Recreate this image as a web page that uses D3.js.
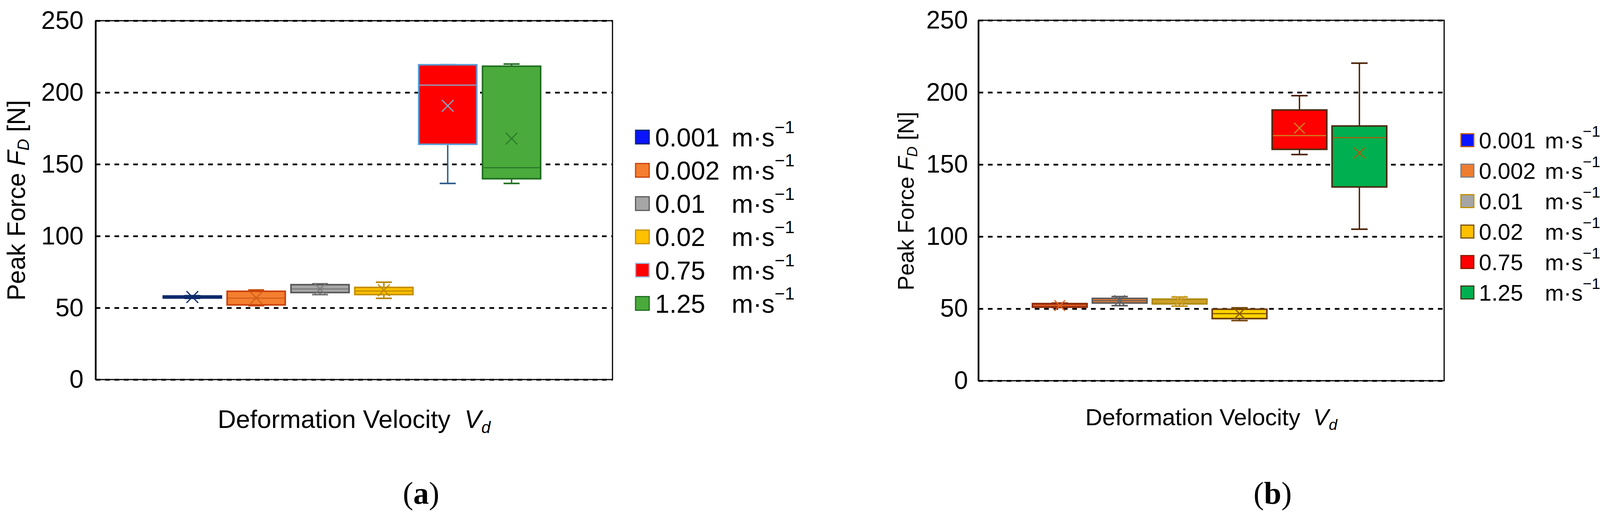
<!DOCTYPE html>
<html>
<head>
<meta charset="utf-8">
<script src="https://cdn.jsdelivr.net/npm/d3@7.9.0/dist/d3.min.js"></script>
<style>
  html, body { margin: 0; padding: 0; background: #fff; overflow: hidden; }
  svg { display: block; }
  text { font-family: 'Liberation Sans', Arial, sans-serif; fill: #000; }
</style>
</head>
<body>
<script>
// values
const velocities = ['0.001', '0.002', '0.01', '0.02', '0.75', '1.25'];
const yTicks = [0, 50, 100, 150, 200, 250];

// panel (a) box stats
const minA  = [56.6, 51.5, 59.2, 56.6, 136.6, 136.6];
const q1A   = [56.8, 52.0, 60.6, 59.2, 163.9, 139.9];
const medA  = [57.5, 56.7, 63.1, 61.7, 205.1, 147.6];
const q3A   = [58.2, 61.5, 66.1, 64.2, 219.3, 218.3];
const maxA  = [58.4, 62.4, 66.7, 67.8, 219.3, 219.8];
const meanA = [57.5, 56.9, 63.1, 62.2, 190.7, 167.9];

// panel (b) box stats
const minB  = [50.8, 52.1, 51.7, 41.7, 156.9, 105.1];
const q1B   = [51.0, 53.9, 53.3, 43.1, 160.5, 134.4];
const medB  = [52.2, 55.5, 54.9, 46.5, 170.0, 168.6];
const q3B   = [53.5, 57.1, 56.6, 49.6, 187.8, 176.7];
const maxB  = [53.8, 58.4, 58.0, 50.6, 197.7, 220.3];
const meanB = [52.1, 55.6, 55.2, 46.5, 175.2, 158.0];

const W = 4168;
const H = 1324;

const svg = d3.select('body').append('svg')
  .attr('width', W)
  .attr('height', H)
  .attr('viewBox', `0 0 ${W} ${H}`);

svg.append('rect').attr('width', W).attr('height', H).attr('fill', '#fff');

const panels = [
  {
    min: minA, q1: q1A, med: medA, q3: q3A, max: maxA, mean: meanA,
    left: 245, right: 1568, top: 53, bottom: 972,
    band: [418, 1384], pad: 0.09, capW: 41, xSize: 15, boxW: 4,
    tickFont: 65, tickPad: 31,
    yTitle: { x: 64, y: 513, font: 64 },
    xTitle: { y: 1096, font: 65 },
    caption: { x: 1078, y: 1290, text: 'a' },
    legend: { sqX: 1627, sq: 35, y0: 351, step: 85.2, tx: 1677, ux: 1873, font: 66 },
    fill:    ['#0d2b6b', '#f47f2f', '#a6a6a6', '#ffc000', '#ff0000', '#4aab3c'],
    stroke:  ['#0d2b6b', '#c8410b', '#595959', '#c49000', '#5b9bd5', '#1f6e1f'],
    whisker: ['#0d2b6b', '#c8500f', '#707070', '#b48400', '#2a5a88', '#1f6e1f'],
    mark:    ['#0d2b6b', '#d2601a', '#7a7a7a', '#c08a00', '#8aa8c8', '#2a7a2a'],
    legFill: ['#0a14ff', '#f47f2f', '#a6a6a6', '#ffc000', '#ff0000', '#4aab3c'],
    legStroke: ['#0d2b6b', '#c8410b', '#595959', '#c49000', '#9dc3e6', '#1f6e1f'],
  },
  {
    min: minB, q1: q1B, med: medB, q3: q3B, max: maxB, mean: meanB,
    left: 2505, right: 3697, top: 52, bottom: 975,
    band: [2643, 3550], pad: 0.088, capW: 42, xSize: 13.5, boxW: 4,
    tickFont: 64, tickPad: 27,
    yTitle: { x: 2339, y: 515, font: 57 },
    xTitle: { y: 1089, font: 60 },
    caption: { x: 3258, y: 1290, text: 'b' },
    legend: { sqX: 3740, sq: 33, y0: 359, step: 78, tx: 3786, ux: 3955, font: 58 },
    fill:    ['#b8401c', '#ed7d31', '#c4a030', '#ffd400', '#ff0000', '#00b050'],
    stroke:  ['#8a2a0a', '#5a5a5a', '#b08a10', '#6b3a00', '#4a2a10', '#4a2a10'],
    whisker: ['#8a2a0a', '#5a5a5a', '#c09010', '#7a4a10', '#4a2000', '#4a2000'],
    mark:    ['#e06020', '#606060', '#d4a020', '#8a5a00', '#d08020', '#a06010'],
    legFill: ['#0a14ff', '#ed7d31', '#a5a5a5', '#ffc000', '#ff0000', '#00b050'],
    legStroke: ['#c55a11', '#7f7f7f', '#bf9000', '#7f4f00', '#8b1a00', '#3a3a1a'],
  },
];

function drawPanel(p) {
  const g = svg.append('g');

  const y = d3.scaleLinear().domain([0, 250]).range([p.bottom, p.top]);
  const x = d3.scaleBand().domain(velocities).range(p.band).paddingInner(p.pad);
  const bw = x.bandwidth();

  // dashed gridlines
  const grid = g.append('g')
    .attr('transform', `translate(${p.left},0)`)
    .call(d3.axisLeft(y).tickValues(yTicks).tickFormat('').tickSize(-(p.right - p.left)));
  grid.select('.domain').remove();
  grid.selectAll('line')
    .attr('stroke', '#000')
    .attr('stroke-width', 4.5)
    .attr('stroke-dasharray', '12,12');

  // frame
  g.append('rect')
    .attr('x', p.left).attr('y', p.top)
    .attr('width', p.right - p.left).attr('height', p.bottom - p.top)
    .attr('fill', 'none').attr('stroke', '#000').attr('stroke-width', 3);
  g.append('line')
    .attr('x1', p.left).attr('x2', p.left)
    .attr('y1', p.top).attr('y2', p.bottom)
    .attr('stroke', '#000').attr('stroke-width', 4.5);

  // tick labels
  const ax = g.append('g')
    .attr('transform', `translate(${p.left},0)`)
    .call(d3.axisLeft(y).tickValues(yTicks).tickSize(0).tickPadding(p.tickPad));
  ax.select('.domain').remove();
  ax.selectAll('text')
    .attr('font-size', p.tickFont)
    .attr('font-family', "'Liberation Sans', Arial, sans-serif")
    .attr('fill', '#000');

  // boxes
  const idx = d3.range(velocities.length);
  const boxes = g.append('g').selectAll('g').data(idx).join('g');
  const cx = (i) => x(velocities[i]) + bw / 2;

  boxes.append('line') // upper whisker
    .attr('x1', cx).attr('x2', cx)
    .attr('y1', (i) => y(p.max[i])).attr('y2', (i) => y(p.q3[i]))
    .attr('stroke', (i) => p.whisker[i]).attr('stroke-width', 3.5);
  boxes.append('line') // lower whisker
    .attr('x1', cx).attr('x2', cx)
    .attr('y1', (i) => y(p.min[i])).attr('y2', (i) => y(p.q1[i]))
    .attr('stroke', (i) => p.whisker[i]).attr('stroke-width', 3.5);
  boxes.append('line') // top cap
    .attr('x1', (i) => cx(i) - p.capW / 2).attr('x2', (i) => cx(i) + p.capW / 2)
    .attr('y1', (i) => y(p.max[i])).attr('y2', (i) => y(p.max[i]))
    .attr('stroke', (i) => p.whisker[i]).attr('stroke-width', 4);
  boxes.append('line') // bottom cap
    .attr('x1', (i) => cx(i) - p.capW / 2).attr('x2', (i) => cx(i) + p.capW / 2)
    .attr('y1', (i) => y(p.min[i])).attr('y2', (i) => y(p.min[i]))
    .attr('stroke', (i) => p.whisker[i]).attr('stroke-width', 4);

  boxes.append('rect')
    .attr('x', (i) => x(velocities[i]))
    .attr('y', (i) => y(p.q3[i]))
    .attr('width', bw)
    .attr('height', (i) => y(p.q1[i]) - y(p.q3[i]))
    .attr('fill', (i) => p.fill[i])
    .attr('stroke', (i) => p.stroke[i])
    .attr('stroke-width', p.boxW);

  boxes.append('line') // median
    .attr('x1', (i) => x(velocities[i]) + 2).attr('x2', (i) => x(velocities[i]) + bw - 2)
    .attr('y1', (i) => y(p.med[i])).attr('y2', (i) => y(p.med[i]))
    .attr('stroke', (i) => p.mark[i]).attr('stroke-width', 3);

  // mean marker (x)
  const s = p.xSize;
  boxes.append('path')
    .attr('d', (i) => {
      const mx = cx(i), my = y(p.mean[i]);
      return `M${mx - s},${my - s}L${mx + s},${my + s}M${mx - s},${my + s}L${mx + s},${my - s}`;
    })
    .attr('stroke', (i) => p.mark[i]).attr('stroke-width', 3).attr('fill', 'none');

  // y title
  const yt = g.append('text')
    .attr('transform', `translate(${p.yTitle.x},${p.yTitle.y}) rotate(-90)`)
    .attr('text-anchor', 'middle')
    .attr('font-size', p.yTitle.font);
  yt.append('tspan').text('Peak Force ');
  yt.append('tspan').attr('font-style', 'italic').text('F');
  yt.append('tspan').attr('font-style', 'italic').attr('font-size', '65%').attr('dy', '0.25em').text('D');
  yt.append('tspan').attr('dy', '-0.16em').text(' [N]');

  // x title
  const xt = g.append('text')
    .attr('x', (p.left + p.right) / 2)
    .attr('y', p.xTitle.y)
    .attr('text-anchor', 'middle')
    .attr('font-size', p.xTitle.font);
  xt.append('tspan').text('Deformation Velocity');
  xt.append('tspan').attr('dx', '0.55em').attr('font-style', 'italic').text('V');
  xt.append('tspan').attr('font-style', 'italic').attr('font-size', '65%').attr('dy', '0.3em').text('d');

  // legend
  const L = p.legend;
  const rows = g.append('g').selectAll('g').data(idx).join('g')
    .attr('transform', (i) => `translate(0,${L.y0 + i * L.step})`);
  rows.append('rect')
    .attr('x', L.sqX).attr('y', -L.sq / 2)
    .attr('width', L.sq).attr('height', L.sq)
    .attr('fill', (i) => p.legFill[i])
    .attr('stroke', (i) => p.legStroke[i])
    .attr('stroke-width', 3);
  rows.append('text')
    .attr('x', L.tx).attr('y', L.font * 0.36)
    .attr('font-size', L.font)
    .text((i) => velocities[i]);
  const unit = rows.append('text')
    .attr('x', L.ux).attr('y', L.font * 0.36)
    .attr('font-size', L.font);
  unit.append('tspan').text('m·s');
  unit.append('tspan').attr('font-size', '68%').attr('dy', '-0.75em').text('−1');

  // caption
  const cap = svg.append('text')
    .attr('x', p.caption.x).attr('y', p.caption.y)
    .attr('text-anchor', 'middle')
    .attr('font-size', 80)
    .style('font-family', "'Liberation Serif', 'Times New Roman', serif");
  cap.append('tspan').text('(');
  cap.append('tspan').attr('font-weight', 'bold').text(p.caption.text);
  cap.append('tspan').text(')');
}

panels.forEach(drawPanel);
</script>
</body>
</html>
